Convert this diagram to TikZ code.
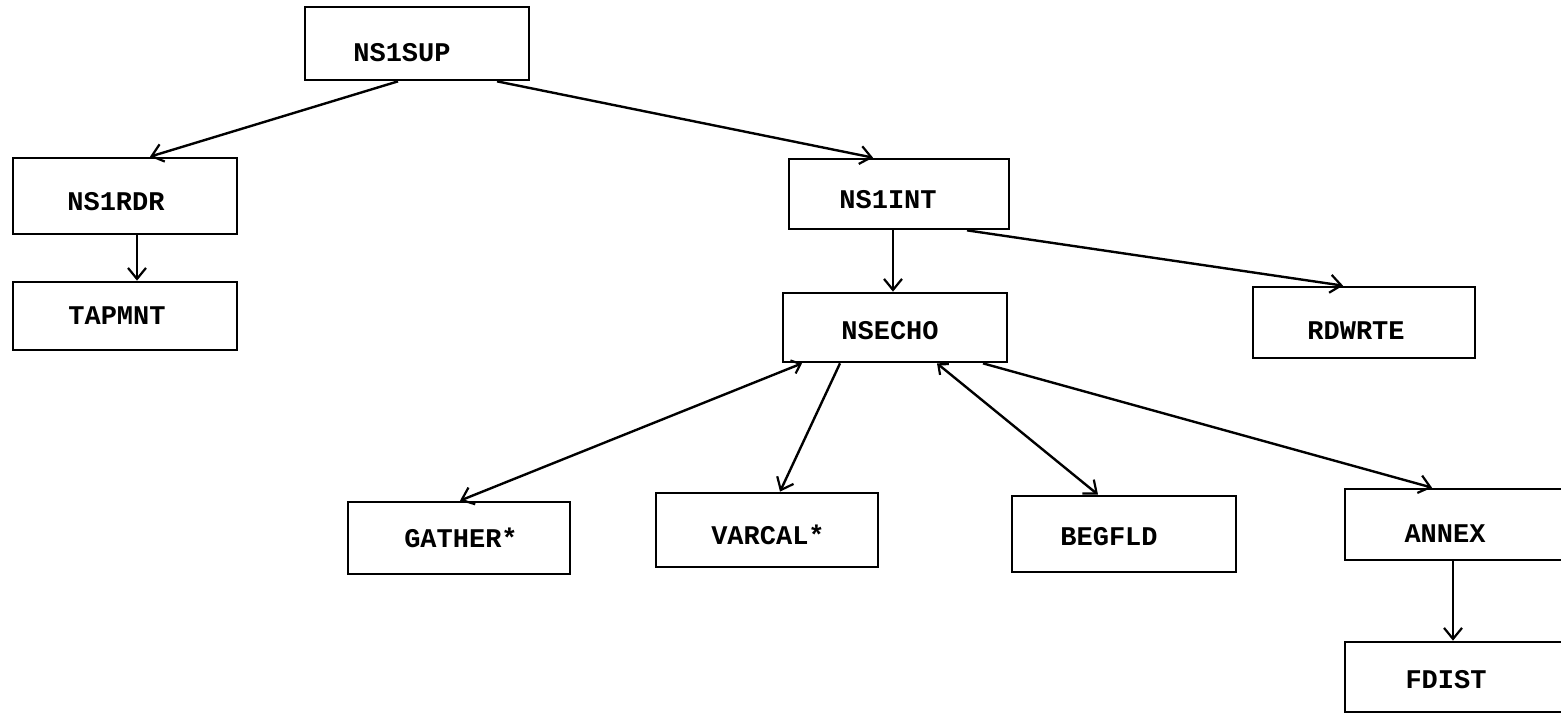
\documentclass[tikz,border=0pt]{standalone}
\usepackage{fontspec}
\setmonofont{Liberation Mono}
\usetikzlibrary{arrows.meta}
\begin{document}
\begin{tikzpicture}[x=1pt,y=-1pt,
  box/.style={draw, line width=2.7pt, rectangle, inner sep=0pt},
  lbl/.style={inner sep=0pt, font=\ttfamily\bfseries\fontsize{27}{27}\selectfont},
  arr/.style={line width=2.4pt, -{Straight Barb[length=11pt,width=18pt,line width=2.2pt]}},
  dbl/.style={line width=2.4pt, {Straight Barb[length=8pt,width=14pt,line width=2.2pt]}-{Straight Barb[length=11pt,width=18pt,line width=2.2pt]}}]
\useasboundingbox (0,0) rectangle (1561,717);
\begin{scope}
\clip (0,0) rectangle (1561,717);
% procedure boxes
\node[box, minimum width=224pt, minimum height=73pt] (sup)  at (417,43.5)  {};
\node[box, minimum width=224pt, minimum height=76pt] (rdr)  at (125,196)   {};
\node[box, minimum width=224pt, minimum height=68pt] (tap)  at (125,316)   {};
\node[box, minimum width=220pt, minimum height=70pt] (int)  at (899,194)   {};
\node[box, minimum width=224pt, minimum height=69pt] (echo) at (895,327.5) {};
\node[box, minimum width=222pt, minimum height=71pt] (rdw)  at (1364,322.5){};
\node[box, minimum width=222pt, minimum height=72pt] (gat)  at (459,538)   {};
\node[box, minimum width=222pt, minimum height=74pt] (var)  at (767,530)   {};
\node[box, minimum width=224pt, minimum height=76pt] (beg)  at (1124,534)  {};
\node[box, minimum width=224pt, minimum height=71pt] (ann)  at (1457,524.5){};
\node[box, minimum width=224pt, minimum height=70pt] (fdi)  at (1457,677)   {};
\end{scope}
% routine names
\node[lbl] (supT)  at ([shift={(-15,9)}]sup.center)  {NS1SUP};
\node[lbl] (rdrT)  at ([shift={(-9,6)}]rdr.center)   {NS1RDR};
\node[lbl] (tapT)  at ([shift={(-8,0)}]tap.center)   {TAPMNT};
\node[lbl] (intT)  at ([shift={(-11,6)}]int.center)  {NS1INT};
\node[lbl] (echoT) at ([shift={(-5,3)}]echo.center)  {NSECHO};
\node[lbl] (rdwT)  at ([shift={(-8,8)}]rdw.center)   {RDWRTE};
\node[lbl] (gatT)  at ([shift={(2,0)}]gat.center)    {GATHER*};
\node[lbl] (varT)  at ([shift={(1,5)}]var.center)    {VARCAL*};
\node[lbl] (begT)  at ([shift={(-15,3)}]beg.center)  {BEGFLD};
\node[lbl] (annT)  at ([shift={(-12,9)}]ann.center)  {ANNEX};
\node[lbl] (fdiT)  at ([shift={(-11,3)}]fdi.center)  {FDIST};
% calls
\draw[arr] ([xshift=-19pt]sup.south) -- ([xshift=25pt]rdr.north);
\draw[arr] ([xshift=80pt]sup.south)  -- ([xshift=-26pt]int.north);
\draw[arr] ([xshift=12pt]rdr.south)  -- ([xshift=12pt]tap.north);
\draw[arr] ([xshift=-6pt]int.south)  -- ([xshift=-2pt]echo.north);
\draw[arr] ([xshift=68pt]int.south)  -- ([xshift=-21pt]rdw.north);
\draw[dbl] ([xshift=-93pt]echo.south) -- ([xshift=1pt]gat.north);
\draw[arr] ([xshift=-55pt]echo.south) -- ([xshift=13pt]var.north);
\draw[dbl] ([xshift=42pt]echo.south)  -- ([xshift=-26pt]beg.north);
\draw[arr] ([xshift=88pt]echo.south)  -- ([xshift=-25pt]ann.north);
\draw[arr] ([xshift=-4pt]ann.south)   -- ([xshift=-4pt]fdi.north);
\end{tikzpicture}
\end{document}
